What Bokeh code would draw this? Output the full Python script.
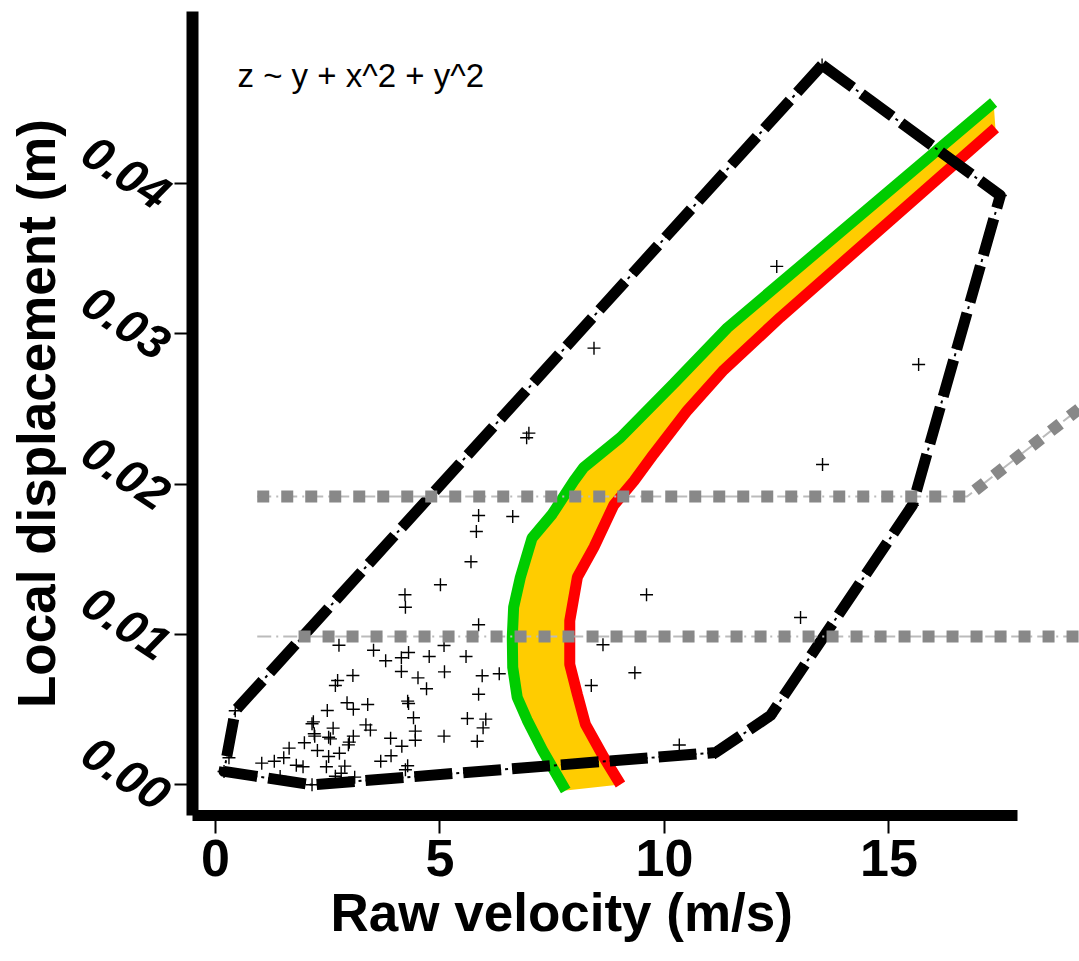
from bokeh.plotting import figure
from bokeh.models import Range1d, FixedTicker, CustomJSTickFormatter, Title
from bokeh.core.properties import value
from bokeh.embed import file_html
from bokeh.resources import INLINE

# ---- data ----
pts_x = [5.86, 6.62, 5.81, 5.69, 5.01, 4.22, 4.23, 5.86, 2.75, 3.52, 3.79, 4.14, 4.30, 4.76, 5.09,
         5.58, 4.14, 4.51, 4.70, 5.10, 5.94, 6.32, 5.86, 3.06, 2.72, 2.67, 2.93, 3.39, 3.07, 2.49,
         4.28, 4.30, 2.18, 2.15, 2.62, 2.20, 2.21, 2.52, 2.56, 3.35, 3.45, 3.07, 2.98, 2.96, 4.41,
         4.45, 4.45, 3.90, 4.15, 5.09, 5.61, 6.02, 5.96, 5.83, 1.98, 1.64, 2.27, 2.52, 2.76, 1.52,
         1.31, 1.03, 1.80, 1.95, 2.47, 2.88, 3.68, 3.91, 4.28, 4.23, 2.80, 2.67, 3.10, 1.44, 2.15,
         0.44, 0.30, 0.19, 9.60, 8.63, 9.34, 8.37, 10.33, 8.43, 6.98, 6.93, 12.50, 13.51, 13.03,
         15.66, 13.52, 7.35, 17.48, 15.52, 12.36, 11.14]
pts_y = [0.01791, 0.01784, 0.01684, 0.01483, 0.01330, 0.01263, 0.01180, 0.01063, 0.00927, 0.00894,
         0.00824, 0.00844, 0.00879, 0.00852, 0.00925, 0.00852, 0.00752, 0.00710, 0.00637, 0.00750,
         0.00724, 0.00737, 0.00601, 0.00726, 0.00692, 0.00659, 0.00544, 0.00533, 0.00501, 0.00493,
         0.00555, 0.00539, 0.00417, 0.00404, 0.00375, 0.00338, 0.00322, 0.00315, 0.00304, 0.00397,
         0.00362, 0.00322, 0.00282, 0.00264, 0.00444, 0.00355, 0.00295, 0.00308, 0.00255, 0.00322,
         0.00439, 0.00435, 0.00377, 0.00288, 0.00278, 0.00242, 0.00226, 0.00186, 0.00208, 0.00178,
         0.00155, 0.00142, 0.00128, 0.00118, 0.00118, 0.00122, 0.00155, 0.00191, 0.00125, 0.00098,
         0.00075, 0.00055, 0.00049, 0.00053, -0.00002, 0.00491, 0.00178, 0.00087, 0.01263, 0.00930,
         0.00744, 0.00659, 0.00263, 0.02905, 0.02339, 0.02308, 0.03449, 0.04790, 0.01112, 0.02796,
         0.02130, 0.01684, 0.03921, 0.01858, 0.00459, 0.00213]

hull_x = [13.51, 17.48, 15.52, 12.36, 11.14, 2.15, 0.19, 0.44, 13.51]
hull_y = [0.0479, 0.03921, 0.01858, 0.00459, 0.00213, -0.00002, 0.00087, 0.00491, 0.0479]

green_x = [7.80, 7.28, 6.94, 6.72, 6.62, 6.61, 6.64, 6.79, 7.05, 7.50, 7.98, 8.20, 9.02, 10.21, 11.40, 17.33]
green_y = [-0.0004, 0.0023, 0.0043, 0.0058, 0.0078, 0.0098, 0.0118, 0.0138, 0.0164, 0.0180,
           0.0202, 0.0211, 0.0231, 0.0267, 0.0304, 0.0454]
red_x = [9.02, 8.65, 8.24, 8.06, 7.89, 7.89, 8.06, 8.43, 8.87, 9.32, 9.76, 10.51, 11.32, 12.58, 17.37]
red_y = [0.0000, 0.0018, 0.0040, 0.0060, 0.0080, 0.0109, 0.0138, 0.0158, 0.0186, 0.0202,
         0.0220, 0.0249, 0.0276, 0.0311, 0.0437]

lineA_x = [0.93, 16.74, 20.0]
lineA_y = [0.01917, 0.01917, 0.0268]
lineB_thin_x = [0.93, 20.0]
lineB_thick_x = [1.85, 20.0]
lineB_y = [0.00985, 0.00985]

x_ticks = [0, 5, 10, 15]
y_ticks = [0.00, 0.01, 0.02, 0.03, 0.04]
formula = "z ~ y + x^2 + y^2"

FONT = "Liberation Sans"

p = figure(width=1079, height=953, output_backend="svg", toolbar_location=None,
           x_range=Range1d(-0.512, 19.243), y_range=Range1d(-0.002064, 0.05146),
           min_border_left=192, min_border_right=0, min_border_top=11, min_border_bottom=138)
p.outline_line_color = None
p.grid.visible = False
p.background_fill_color = "white"
p.border_fill_color = "white"

# scatter points
p.scatter(pts_x, pts_y, marker="cross", size=13, line_color="black", line_width=1.4)

# band and curves
p.patch(green_x + red_x[::-1], green_y + red_y[::-1], fill_color="#ffcc00", line_color=None)
p.line(red_x, red_y, line_color="#ff0000", line_width=11)
p.line(green_x, green_y, line_color="#00cc00", line_width=11)

# hull
p.line(hull_x, hull_y, line_color="black", line_width=11, line_dash="38 11", line_join="round")
p.line(hull_x, hull_y, line_color="black", line_width=2, line_dash="38 4 3 4")

# gray reference lines
p.line(lineA_x, lineA_y, line_color="#bbbbbb", line_width=2, line_dash="14 5 2 5")
p.line(lineA_x, lineA_y, line_color="#888888", line_width=12, line_dash="12 12")
p.line(lineB_thin_x, lineB_y, line_color="#bbbbbb", line_width=2, line_dash="14 5 2 5")
p.line(lineB_thick_x, lineB_y, line_color="#888888", line_width=12, line_dash="12 12")

# formula text
p.text(x=[0.49], y=[0.04721], text=[formula], text_font=value(FONT), text_font_size="33px",
       text_color="black", text_align="left", text_baseline="alphabetic")

# axes
xa = p.xaxis[0]
xa.ticker = FixedTicker(ticks=x_ticks)
xa.bounds = (-0.512, 17.86)
xa.axis_line_width = 11
xa.axis_line_color = "black"
xa.major_tick_line_width = 2
xa.major_tick_line_color = "black"
xa.major_tick_out = 18
xa.major_tick_in = 0
xa.minor_tick_line_color = None
xa.major_label_text_font = FONT
xa.major_label_text_font_style = "bold"
xa.major_label_text_font_size = "52px"
xa.major_label_text_color = "black"
xa.major_label_standoff = 6

ya = p.yaxis[0]
ya.ticker = FixedTicker(ticks=y_ticks)
ya.formatter = CustomJSTickFormatter(code="return '\\n' + tick.toFixed(2);")
ya.bounds = (-0.002064, 0.05146)
ya.axis_line_width = 12
ya.axis_line_color = "black"
ya.major_tick_line_width = 2
ya.major_tick_line_color = "black"
ya.major_tick_out = 18
ya.major_tick_in = 0
ya.minor_tick_line_color = None
ya.major_label_text_font = FONT
ya.major_label_text_font_style = "bold italic"
ya.major_label_text_font_size = "48px"
ya.major_label_text_color = "black"
ya.major_label_text_line_height = 0.65
ya.major_label_orientation = -0.58
ya.major_label_standoff = 0
ya.axis_label = "Local displacement (m)"
ya.axis_label_text_font = FONT
ya.axis_label_text_font_style = "bold"
ya.axis_label_text_font_size = "53px"
ya.axis_label_text_color = "black"
ya.axis_label_standoff = -21

p.add_layout(Title(text="Raw velocity (m/s)", align="left", offset=138,
                   text_font=FONT, text_font_style="bold", text_font_size="53px",
                   text_color="black", standoff=4), "below")

open("out.html", "w").write(file_html(p, INLINE))
